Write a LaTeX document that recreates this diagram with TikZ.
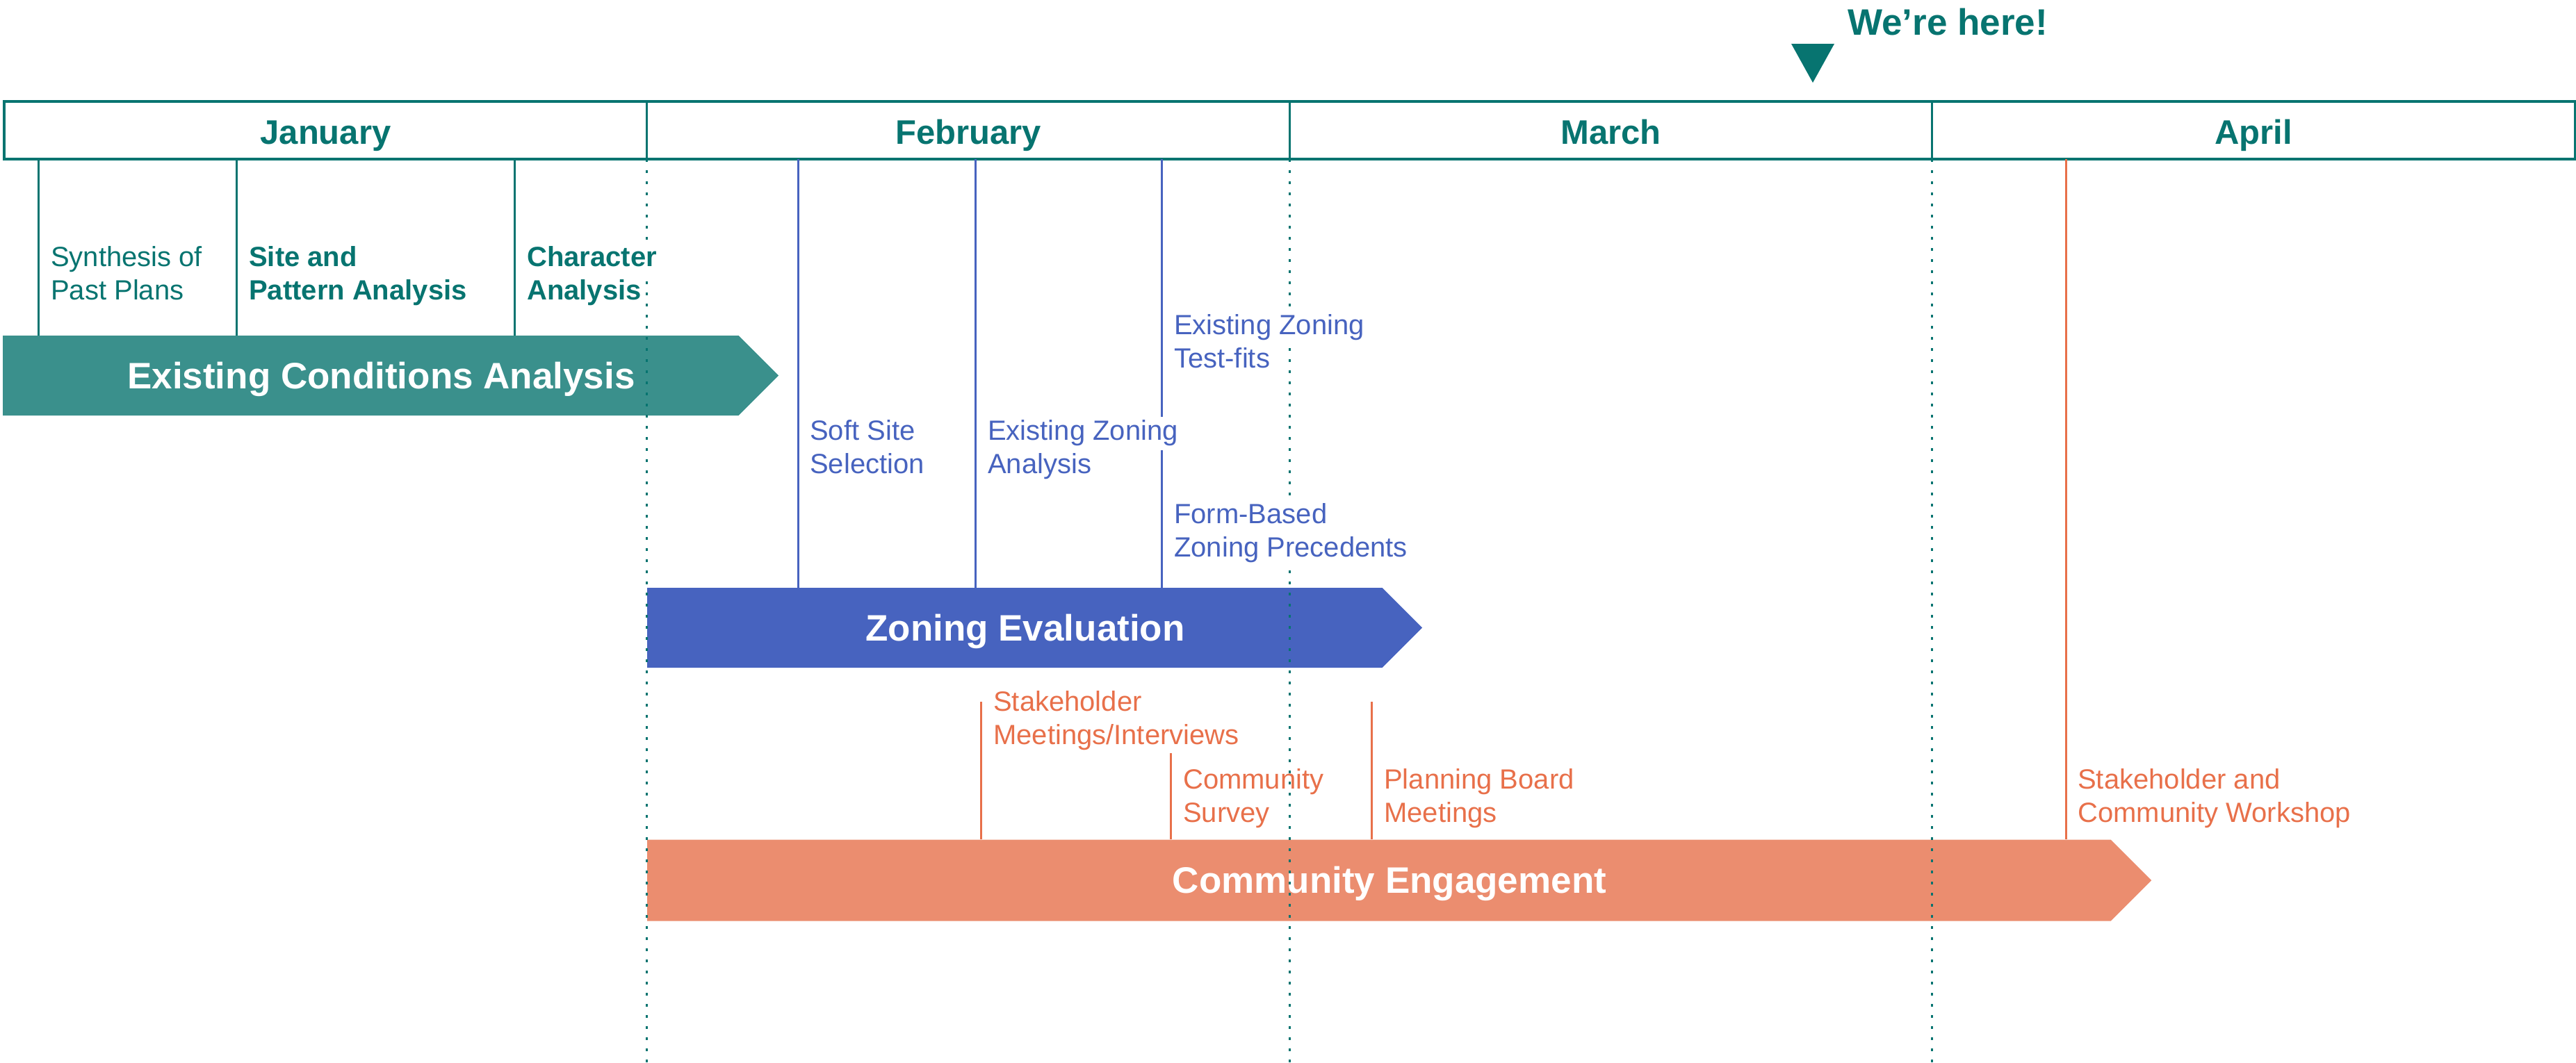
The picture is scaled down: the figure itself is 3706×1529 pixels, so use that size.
\documentclass[tikz,border=0pt]{standalone}
\usepackage{fontspec}
\setmainfont{Liberation Sans}
\usetikzlibrary{shapes.symbols}
\definecolor{tealdark}{HTML}{077470}
\definecolor{tealfill}{HTML}{3A908C}
\definecolor{zoneblue}{HTML}{4763BF}
\definecolor{engline}{HTML}{E8704A}
\definecolor{engfill}{HTML}{EB8D6F}
\newcommand{\masked}[1]{{\setlength{\fboxsep}{0pt}\colorbox{white}{\strut#1}}}
\begin{document}
\begin{tikzpicture}
[x=1pt,y=-1pt,
  monthdecorate/.style={minimum width=924.5pt,minimum height=83pt,inner sep=0pt,text height=45pt,text depth=6pt,text=tealdark,font=\fontsize{49}{58}\selectfont\bfseries},
  bardecorate/.style={shape=signal,signal to=east,signal pointer angle=90,inner sep=0pt,minimum height=115pt,anchor=west,text height=46pt,text depth=9pt,text=white,font=\fontsize{53}{64}\selectfont\bfseries,execute at begin node={\hspace*{30pt}}},
  tickdecorate/.style={-,line width=3pt},
  griddecorate/.style={-,tealdark,line width=3pt,dash pattern=on 3.5pt off 12.5pt},
  labelplain/.style={anchor=base west,align=left,inner sep=0pt,font=\fontsize{40}{47.5}\selectfont},
  labelbold/.style={labelplain,font=\fontsize{40}{47.5}\selectfont\bfseries}]
\useasboundingbox (0,0) rectangle (3706,1529);
%% months
\foreach \nodename/\x/\txt in {jan/468.5/January, feb/1393/February, mar/2317.5/March, apr/3242/April} {
  \node (\nodename) at (\x,187.5) [monthdecorate] {\txt};
}
\draw[tealdark,line width=4pt] (jan.north west) rectangle (apr.south east);
\foreach \nodename in {jan, feb, mar} {
  \draw[tealdark,line width=3pt] (\nodename.north east) -- (\nodename.south east);
}
%% we're here
\fill[tealdark] (2577,63) -- (2639,63) -- (2608,119) -- cycle;
\node (here) at (2658,50) [anchor=base west,inner sep=0pt,text=tealdark,font=\fontsize{53}{64}\selectfont\bfseries] {We’re here!};
%% bars
\node (ecabar) at (4,540.5) [bardecorate,minimum width=1116pt,fill=tealfill] {Existing Conditions Analysis};
\node (zonbar) at (931,903.5) [bardecorate,minimum width=1115pt,fill=zoneblue] {Zoning Evaluation};
\node (engbar) at (931,1267) [bardecorate,minimum width=2164pt,minimum height=117pt,fill=engfill] {Community Engagement};
%% ticks
\foreach \tickname/\x/\y/\col/\barname in {eca1/55/229/tealdark/ecabar, eca2/340/229/tealdark/ecabar, eca3/740/229/tealdark/ecabar,
    zon1/1148/229/zoneblue/zonbar, zon2/1403/229/zoneblue/zonbar, zon3/1671/229/zoneblue/zonbar,
    eng1/1411/1010/engline/engbar, eng2/1684/1084/engline/engbar, eng3/1973/1010/engline/engbar, eng4/2972/229/engline/engbar} {
  \coordinate (\tickname) at (\x,\y);
  \draw[tickdecorate,\col] (\tickname) -- (\tickname |- \barname.north);
}
%% month grid
\coordinate (bottom) at (0,1529);
\foreach \nodename in {jan, feb, mar} {
  \draw[griddecorate] (\nodename.south east) -- (\nodename.south east |- bottom);
}
%% labels
\foreach \nodename/\x/\y/\col/\sty/\txt in {syn/73/431/tealdark/labelplain/{Synthesis of\\Past Plans},
    sit/358/431/tealdark/labelbold/{Site and\\Pattern Analysis},
    chr/758/431/tealdark/labelbold/{\masked{Character}\\Analysis},
    sft/1165/681/zoneblue/labelplain/{Soft Site\\Selection},
    eza/1421/681/zoneblue/labelplain/{\masked{Existing Zoning}\\Analysis},
    ezt/1689/529/zoneblue/labelplain/{\masked{Existing Zoning}\\Test-fits},
    fbz/1689/801/zoneblue/labelplain/{\masked{Form-Based}\\\masked{Zoning Precedents}},
    stk/1429/1071/engline/labelplain/{Stakeholder\\Meetings/Interviews},
    srv/1702/1183/engline/labelplain/{Community\\Survey},
    pbm/1991/1183/engline/labelplain/{Planning Board\\Meetings},
    wrk/2989/1183/engline/labelplain/{Stakeholder and\\Community Workshop}} {
  \node (\nodename) at (\x,\y) [\sty,text=\col] {\txt};
}
\end{tikzpicture}
\end{document}
